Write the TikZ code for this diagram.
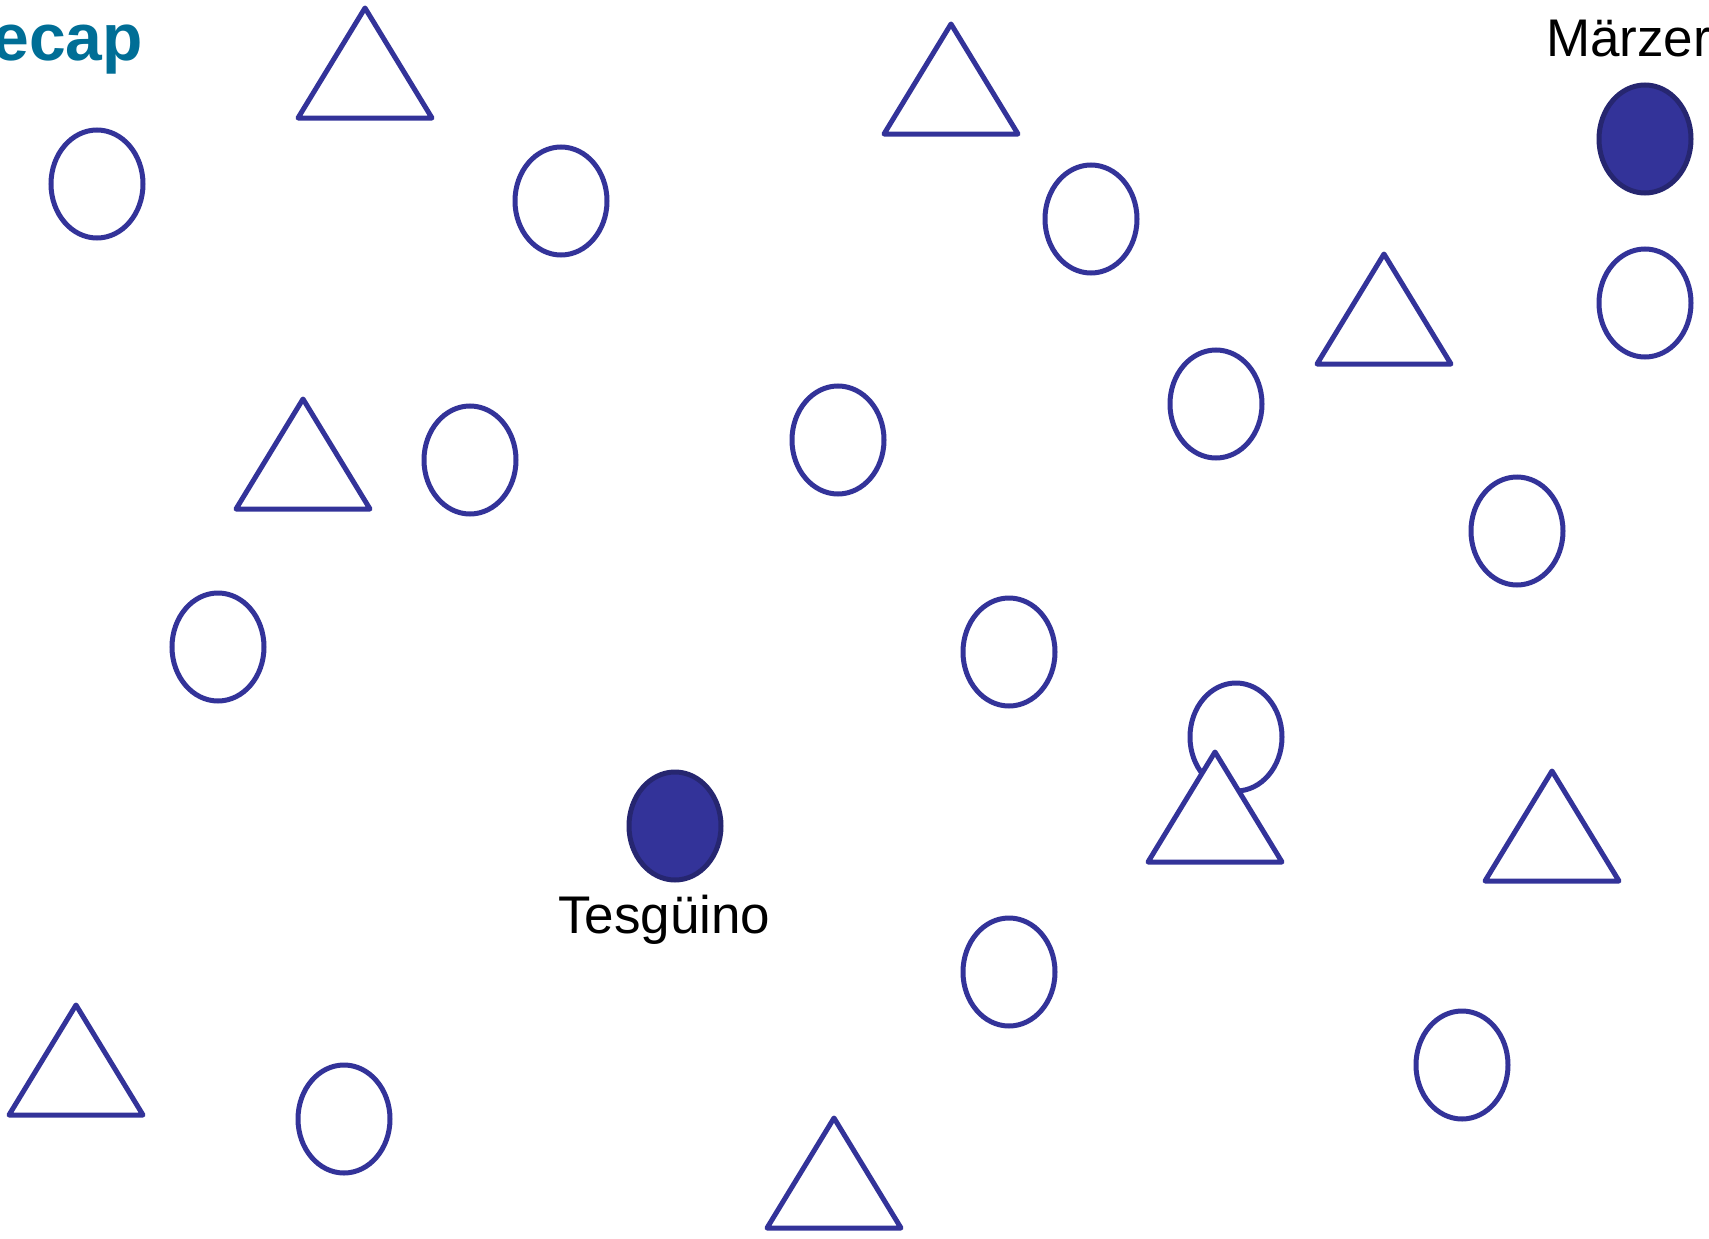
\documentclass[tikz,border=0pt]{standalone}
\usepackage{fontspec}
\setmainfont{Liberation Sans}
\usetikzlibrary{shapes.geometric}
\definecolor{shapeblue}{RGB}{51,51,153}
\definecolor{darkblue}{RGB}{38,38,112}
\definecolor{titleblue}{RGB}{0,110,150}
\begin{document}
\begin{tikzpicture}[x=1pt,y=-1pt,
  ring/.style={ellipse,draw=shapeblue,line width=5pt,fill=white,inner sep=0pt,minimum width=92pt,minimum height=108pt},
  dot/.style={ellipse,draw=darkblue,line width=5pt,fill=shapeblue,inner sep=0pt,minimum width=92pt,minimum height=108pt},
  tri/.pic={\draw[draw=shapeblue,line width=5pt,line join=round,fill=white] (0,0) -- (67,110) -- (-67,110) -- cycle;},
  lbl/.style={inner sep=0pt,font=\fontsize{53}{60}\selectfont}]
\useasboundingbox (0,0) rectangle (1709,1239);
% open circles
\node[ring] (c1) at (97,184) {};
\node[ring] (c2) at (561,201) {};
\node[ring] (c3) at (1091,219) {};
\node[ring] (c4) at (1645,303) {};
\node[ring] (c5) at (1216,404) {};
\node[ring] (c6) at (470,460) {};
\node[ring] (c7) at (838,440) {};
\node[ring] (c8) at (1517,531) {};
\node[ring] (c9) at (218,647) {};
\node[ring] (c10) at (1009,652) {};
\node[ring] (c11) at (1236,737) {};
\node[ring] (c12) at (1009,972) {};
\node[ring] (c13) at (1462,1065) {};
\node[ring] (c14) at (344,1119) {};
% filled circles
\node[dot] (m) at (1645,139) {};
\node[dot] (t) at (675,826) {};
% triangles (apex positions)
\pic at (365,8) {tri};
\pic at (951,24) {tri};
\pic at (1384,254) {tri};
\pic at (303,399) {tri};
\pic at (1215,752) {tri};
\pic at (1552,771) {tri};
\pic at (76,1005) {tri};
\pic at (834,1118) {tri};
% texts
\node[lbl,anchor=base west] (mlabel) at (1546,57) {Märzer};
\node[lbl,anchor=base west] (tlabel) at (558,933) {Tesgüino};
\node[inner sep=0pt,anchor=base east,text=titleblue,font=\fontsize{66}{72}\selectfont\bfseries] (title) at (143,61) {ecap};
\end{tikzpicture}
\end{document}
